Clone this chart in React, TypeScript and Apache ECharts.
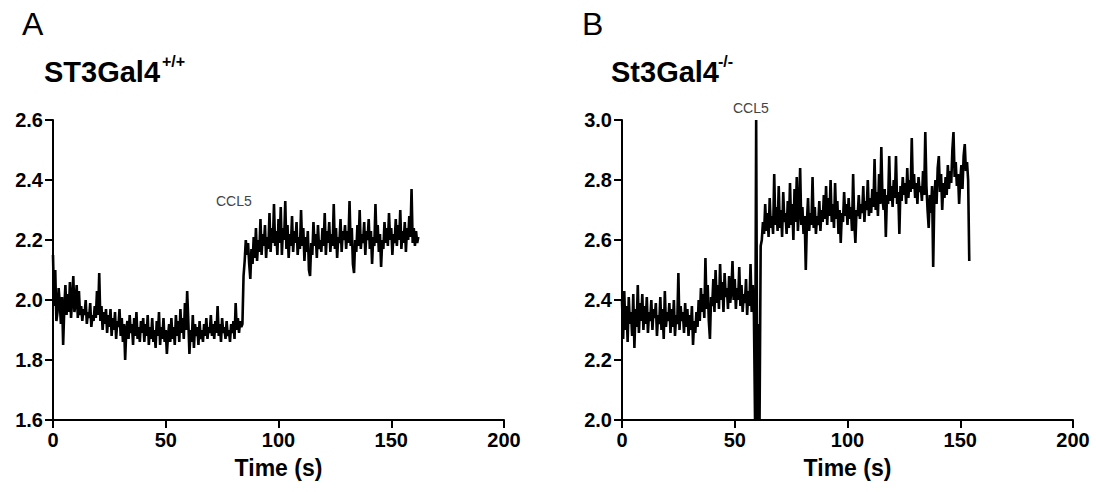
import React, { useEffect, useRef } from "react";
import * as echarts from "echarts";

// sampling step of both traces (seconds)
const STEP = 0.5;

// ST3Gal4 +/+ trace, one value every 0.5 s from t = 0 to 162 s
const wildTypeValues = [
  2.15, 1.98, 2.10, 1.93, 1.96, 2.04, 1.99, 1.92, 2.01, 1.85, 1.97, 2.05, 1.95, 2.02, 1.96, 2.06, 1.94, 2.00, 2.08, 1.96,
  1.99, 2.05, 1.94, 2.03, 1.95, 1.98, 1.93, 1.97, 1.95, 2.00, 1.92, 1.96, 1.94, 1.99, 1.91, 1.95, 1.93, 1.98, 1.94, 2.03,
  1.95, 2.09, 1.93, 1.98, 1.90, 1.96, 1.92, 1.97, 1.89, 1.95, 1.91, 1.97, 1.88, 1.94, 1.90, 1.96, 1.87, 1.93, 1.91, 1.97,
  1.88, 1.94, 1.86, 1.92, 1.80, 1.90, 1.93, 1.87, 1.95, 1.89, 1.92, 1.85, 1.94, 1.88, 1.96, 1.87, 1.91, 1.86, 1.93, 1.89,
  1.94, 1.86, 1.92, 1.88, 1.95, 1.85, 1.91, 1.87, 1.94, 1.86, 1.90, 1.84, 1.93, 1.88, 1.96, 1.85, 1.91, 1.87, 1.94, 1.86,
  1.90, 1.82, 1.88, 1.92, 1.86, 1.94, 1.87, 1.91, 1.85, 1.95, 1.88, 1.93, 1.86, 1.97, 1.89, 1.94, 1.87, 1.99, 1.90, 2.03,
  1.93, 1.82, 1.90, 1.86, 1.95, 1.84, 1.92, 1.88, 1.91, 1.85, 1.93, 1.87, 1.90, 1.86, 1.92, 1.88, 1.94, 1.87, 1.91, 1.89,
  1.95, 1.88, 1.92, 1.87, 1.93, 1.89, 1.98, 1.88, 1.92, 1.86, 1.94, 1.89, 1.91, 1.87, 1.93, 1.88, 1.90, 1.86, 1.92, 1.89,
  1.93, 1.87, 1.99, 1.90, 1.94, 1.89, 1.93, 1.91, 1.92, 2.08, 2.13, 2.20, 2.15, 2.19, 2.12, 2.07, 2.17, 2.12, 2.21, 2.14,
  2.24, 2.13, 2.20, 2.16, 2.27, 2.15, 2.22, 2.18, 2.25, 2.14, 2.21, 2.17, 2.29, 2.16, 2.24, 2.19, 2.32, 2.18, 2.23, 2.15,
  2.27, 2.19, 2.31, 2.15, 2.24, 2.20, 2.33, 2.17, 2.25, 2.14, 2.22, 2.18, 2.28, 2.16, 2.23, 2.19, 2.26, 2.15, 2.21, 2.17,
  2.30, 2.18, 2.24, 2.13, 2.21, 2.16, 2.23, 2.10, 2.08, 2.19, 2.15, 2.26, 2.18, 2.22, 2.14, 2.25, 2.17, 2.20, 2.16, 2.24,
  2.18, 2.29, 2.15, 2.23, 2.19, 2.26, 2.16, 2.22, 2.18, 2.32, 2.17, 2.24, 2.14, 2.21, 2.19, 2.27, 2.16, 2.23, 2.20, 2.25,
  2.17, 2.23, 2.19, 2.33, 2.18, 2.24, 2.12, 2.09, 2.20, 2.16, 2.25, 2.18, 2.30, 2.17, 2.22, 2.19, 2.26, 2.15, 2.23, 2.20,
  2.27, 2.17, 2.23, 2.12, 2.21, 2.18, 2.32, 2.19, 2.25, 2.16, 2.22, 2.11, 2.20, 2.17, 2.26, 2.19, 2.24, 2.18, 2.29, 2.20,
  2.24, 2.15, 2.22, 2.19, 2.27, 2.18, 2.25, 2.20, 2.30, 2.17, 2.23, 2.19, 2.26, 2.16, 2.24, 2.20, 2.28, 2.21, 2.37, 2.19,
  2.24, 2.18, 2.23, 2.19, 2.21,
];

// St3Gal4 -/- trace, one value every 0.5 s from t = 0 to 154 s
const knockoutValues = [
  2.40, 2.27, 2.43, 2.30, 2.38, 2.26, 2.41, 2.32, 2.36, 2.28, 2.42, 2.24, 2.37, 2.31, 2.45, 2.29, 2.39, 2.33, 2.42, 2.30,
  2.38, 2.32, 2.41, 2.29, 2.36, 2.33, 2.40, 2.30, 2.37, 2.34, 2.39, 2.28, 2.35, 2.32, 2.41, 2.30, 2.37, 2.27, 2.43, 2.31,
  2.36, 2.33, 2.39, 2.29, 2.37, 2.31, 2.40, 2.28, 2.35, 2.32, 2.49, 2.30, 2.38, 2.33, 2.36, 2.29, 2.39, 2.31, 2.37, 2.28,
  2.35, 2.30, 2.38, 2.25, 2.33, 2.29, 2.36, 2.31, 2.40, 2.33, 2.44, 2.36, 2.42, 2.34, 2.54, 2.37, 2.45, 2.33, 2.27, 2.41,
  2.38, 2.47, 2.36, 2.50, 2.39, 2.45, 2.37, 2.52, 2.40, 2.46, 2.36, 2.49, 2.41, 2.44, 2.37, 2.48, 2.39, 2.43, 2.53, 2.40,
  2.47, 2.37, 2.44, 2.40, 2.51, 2.38, 2.45, 2.36, 2.42, 2.39, 2.47, 2.35, 2.43, 2.38, 2.52, 2.36, 2.45, 2.35, 2.00, 3.00,
  2.00, 2.32, 2.00, 2.58, 2.60, 2.66, 2.62, 2.72, 2.63, 2.69, 2.61, 2.74, 2.64, 2.68, 2.62, 2.82, 2.65, 2.71, 2.63, 2.78,
  2.64, 2.70, 2.61, 2.76, 2.66, 2.69, 2.62, 2.73, 2.64, 2.79, 2.65, 2.72, 2.60, 2.77, 2.66, 2.81, 2.63, 2.70, 2.84, 2.65,
  2.71, 2.62, 2.68, 2.50, 2.66, 2.74, 2.63, 2.69, 2.65, 2.81, 2.64, 2.71, 2.62, 2.68, 2.65, 2.73, 2.63, 2.70, 2.66, 2.75,
  2.67, 2.78, 2.65, 2.74, 2.68, 2.80, 2.66, 2.72, 2.64, 2.79, 2.67, 2.73, 2.62, 2.70, 2.59, 2.69, 2.66, 2.76, 2.68, 2.72,
  2.65, 2.74, 2.67, 2.71, 2.63, 2.82, 2.66, 2.59, 2.70, 2.68, 2.75, 2.67, 2.72, 2.69, 2.78, 2.66, 2.73, 2.70, 2.80, 2.68,
  2.74, 2.69, 2.77, 2.71, 2.87, 2.70, 2.76, 2.68, 2.82, 2.72, 2.91, 2.74, 2.70, 2.77, 2.61, 2.75, 2.72, 2.88, 2.73, 2.78,
  2.71, 2.80, 2.74, 2.88, 2.72, 2.76, 2.62, 2.78, 2.73, 2.81, 2.75, 2.79, 2.72, 2.84, 2.74, 2.80, 2.76, 2.94, 2.77, 2.82,
  2.74, 2.79, 2.72, 2.81, 2.76, 2.78, 2.73, 2.83, 2.75, 2.96, 2.78, 2.70, 2.64, 2.75, 2.69, 2.78, 2.51, 2.74, 2.80, 2.72,
  2.84, 2.88, 2.76, 2.82, 2.70, 2.79, 2.74, 2.81, 2.75, 2.85, 2.77, 2.83, 2.79, 2.90, 2.96, 2.81, 2.86, 2.78, 2.82, 2.72,
  2.80, 2.85, 2.77, 2.88, 2.92, 2.83, 2.86, 2.80, 2.53,
];

const panelLetters = ["A", "B"];
const panelTitles = ["ST3Gal4", "St3Gal4"];
const panelSuperscripts = ["+/+", "-/-"];
const stimulusLabel = "CCL5";
const xAxisTitle = "Time (s)";
const xRange = [0, 200, 50];
const yRanges = [
  [1.6, 2.6, 0.2],
  [2.0, 3.0, 0.2],
];

const FONT = "'Liberation Sans', Arial, sans-serif";

const toPairs = (vals: number[]) => vals.map((v, i) => [i * STEP, v]);

export default function App() {
  const ref = useRef<HTMLDivElement>(null);

  useEffect(() => {
    if (!ref.current) return;
    const chart = echarts.init(ref.current, null, { renderer: "svg" });

    const grids = [
      { left: 53, top: 120, width: 451, height: 300 },
      { left: 622, top: 120, width: 451, height: 300 },
    ];

    const axisLine = { show: true, lineStyle: { color: "#000", width: 2 } };
    const axisTick = { show: true, inside: false, length: 8, lineStyle: { color: "#000", width: 2 } };

    const xAxes = grids.map((_, i) => ({
      type: "value",
      gridIndex: i,
      min: xRange[0],
      max: xRange[1],
      interval: xRange[2],
      axisLine,
      axisTick,
      splitLine: { show: false },
      axisLabel: { color: "#000", fontSize: 20, fontWeight: "bold", fontFamily: FONT, margin: 10 },
      name: xAxisTitle,
      nameLocation: "middle",
      nameGap: 36,
      nameTextStyle: { color: "#000", fontSize: 23, fontWeight: "bold", fontFamily: FONT, verticalAlign: "top" },
    }));

    const yAxes = grids.map((_, i) => ({
      type: "value",
      gridIndex: i,
      min: yRanges[i][0],
      max: yRanges[i][1],
      interval: yRanges[i][2],
      axisLine,
      axisTick,
      splitLine: { show: false },
      axisLabel: {
        color: "#000",
        fontSize: 20,
        fontWeight: "bold",
        fontFamily: FONT,
        margin: 10,
        formatter: (v: number) => v.toFixed(1),
      },
    }));

    const graphics: any[] = [];
    const letterX = [22, 582];
    const titleX = [44, 611];
    const supX = [162, 718];
    for (let i = 0; i < 2; i++) {
      graphics.push({
        type: "text",
        left: letterX[i],
        top: 8,
        style: { text: panelLetters[i], fontSize: 32, fontFamily: FONT, fill: "#000" },
      });
      graphics.push({
        type: "text",
        left: titleX[i],
        top: 57,
        style: { text: panelTitles[i], fontSize: 29, fontWeight: "bold", fontFamily: FONT, fill: "#000" },
      });
      graphics.push({
        type: "text",
        left: supX[i],
        top: 53,
        style: { text: panelSuperscripts[i], fontSize: 16, fontWeight: "bold", fontFamily: FONT, fill: "#000" },
      });
    }
    graphics.push({
      type: "text",
      left: 216,
      top: 194,
      style: { text: stimulusLabel, fontSize: 14, fontFamily: FONT, fill: "#444" },
    });
    graphics.push({
      type: "text",
      left: 733,
      top: 101,
      style: { text: stimulusLabel, fontSize: 14, fontFamily: FONT, fill: "#444" },
    });

    const traces = [wildTypeValues, knockoutValues];

    chart.setOption({
      animation: false,
      backgroundColor: "#fff",
      grid: grids,
      xAxis: xAxes,
      yAxis: yAxes,
      graphic: graphics,
      series: traces.map((vals, i) => ({
        type: "line",
        xAxisIndex: i,
        yAxisIndex: i,
        data: toPairs(vals),
        showSymbol: false,
        symbol: "none",
        lineStyle: { color: "#000", width: 2.6 },
        clip: false,
      })),
    });

    return () => chart.dispose();
  }, []);

  return (
    <div
      ref={ref}
      style={{ position: "absolute", left: 0, top: 0, width: 1096, height: 492 }}
    />
  );
}
